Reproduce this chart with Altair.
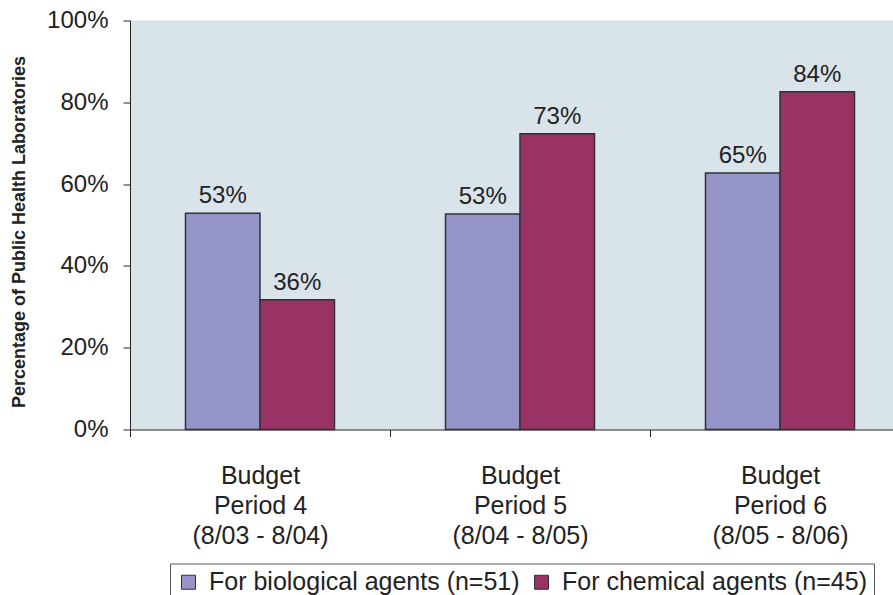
import altair as alt
import pandas as pd

periods = ["Budget|Period 4|(8/03 - 8/04)", "Budget|Period 5|(8/04 - 8/05)", "Budget|Period 6|(8/05 - 8/06)"]
series = ["For biological agents (n=51)", "For chemical agents (n=45)"]
bio_values = [52.9, 52.7, 62.7]
chem_values = [31.7, 72.3, 82.6]
bio_labels = ["53%", "53%", "65%"]
chem_labels = ["36%", "73%", "84%"]
colors = ["#9494c8", "#993366"]

rows = []
for i, p in enumerate(periods):
    rows.append({"period": p, "series": series[0], "value": bio_values[i], "label": bio_labels[i]})
    rows.append({"period": p, "series": series[1], "value": chem_values[i], "label": chem_labels[i]})
df = pd.DataFrame(rows)

FONT = "Liberation Sans"

x_enc = alt.X(
    "period:N",
    sort=periods,
    scale=alt.Scale(domain=periods, range=[0, 780], paddingInner=0, paddingOuter=0),
    axis=alt.Axis(
        title=None,
        labelAngle=0,
        tickBand="extent",
        tickSize=7,
        tickColor="#222",
        domainColor="#222",
        labelExpr="split(datum.label, '|')",
        labelFont=FONT,
        labelFontSize=25,
        labelLineHeight=30,
        labelBaseline="top",
        labelPadding=27,
        labelColor="#222",
    ),
)
xo_enc = alt.XOffset("series:N", sort=series, scale=alt.Scale(domain=series, paddingOuter=0.745, paddingInner=0))
y_enc = alt.Y(
    "value:Q",
    scale=alt.Scale(domain=[0, 100], nice=False),
    axis=alt.Axis(
        title="Percentage of Public Health Laboratories",
        values=[0, 20, 40, 60, 80, 100],
        labelExpr="datum.value + '%'",
        grid=False,
        tickSize=7,
        tickColor="#222",
        domainColor="#222",
        labelPadding=15,
        labelFont=FONT,
        labelFontSize=24,
        labelColor="#222",
        titleFont=FONT,
        titleFontSize=18,
        titleFontWeight="bold",
        titleColor="#222",
        titleAngle=-90,
        titleX=-111,
        titleY=211,
        titleAlign="center",
        titleBaseline="middle",
    ),
)

bars = alt.Chart(df).mark_bar(stroke="#333", strokeWidth=1.5, opacity=1).encode(
    x=x_enc,
    xOffset=xo_enc,
    y=y_enc,
    color=alt.Color(
        "series:N",
        sort=series,
        scale=alt.Scale(domain=series, range=colors),
        legend=alt.Legend(
            orient="none",
            legendX=40,
            legendY=543,
            direction="horizontal",
            title=None,
            symbolType="square",
            symbolSize=196,
            symbolStrokeColor="#333",
            symbolStrokeWidth=1,
            symbolOpacity=1,
            labelFont=FONT,
            labelFontSize=25,
            labelColor="#222",
            labelLimit=400,
            labelOffset=8,
            columnPadding=9,
            padding=6,
            strokeColor="#555",
            fillColor="white",
        ),
    ),
)

texts = alt.Chart(df).mark_text(dy=-10, baseline="alphabetic", fontSize=24, font=FONT, color="#222").encode(
    x=x_enc,
    xOffset=xo_enc,
    y=y_enc,
    text="label:N",
)

chart = (
    alt.layer(bars, texts)
    .properties(
        width=763,
        height=409,
        autosize=alt.AutoSizeParams(type="none"),
        padding={"left": 130, "top": 20.5, "right": 0, "bottom": 165.5},
        background="white",
    )
    .configure_view(fill="#d9e3ea", stroke=None)
)

chart.save("out.html", embed_options={"renderer": "svg", "actions": False})
